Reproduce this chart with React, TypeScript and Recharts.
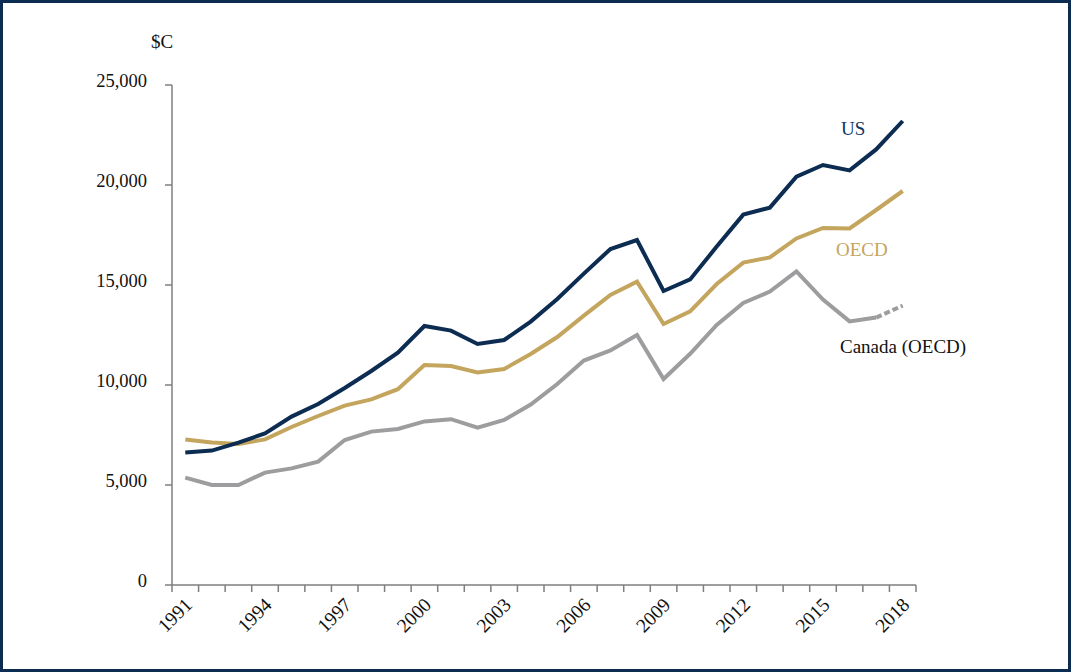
import { CartesianGrid, Line, LineChart, XAxis, YAxis } from 'recharts';

const years = [
  1991, 1992, 1993, 1994, 1995, 1996, 1997, 1998, 1999, 2000,
  2001, 2002, 2003, 2004, 2005, 2006, 2007, 2008, 2009, 2010,
  2011, 2012, 2013, 2014, 2015, 2016, 2017, 2018
];

const usValues = [
  6620, 6720, 7120, 7580, 8420, 9050, 9850, 10700, 11620, 12950,
  12720, 12050, 12250, 13170, 14300, 15570, 16800, 17250, 14700, 15280,
  16920, 18520, 18870, 20420, 21000, 20730, 21780, 23200
];

const oecdValues = [
  7280, 7130, 7050, 7280, 7900, 8450, 8970, 9280, 9790, 11000,
  10950, 10630, 10800, 11550, 12400, 13470, 14500, 15170, 13050, 13680,
  15050, 16120, 16380, 17330, 17850, 17830, 18750, 19700
];

const canadaValues = [
  5370, 5000, 5000, 5620, 5830, 6170, 7250, 7670, 7800, 8180,
  8290, 7870, 8250, 9020, 10050, 11220, 11730, 12500, 10300, 11560,
  13000, 14100, 14670, 15680, 14270, 13180, 13370, 13970
];

// last year is an estimate, drawn dashed
const lastSolidYear = 2017;

const yTicks = [0, 5000, 10000, 15000, 20000, 25000];
const labelEvery = 3;

const data = years.map((year, i) => ({
  year,
  us: usValues[i],
  oecd: oecdValues[i],
  canada: year <= lastSolidYear ? canadaValues[i] : null,
  canadaEst: year >= lastSolidYear ? canadaValues[i] : null
}));

const W = 1071;
const H = 672;
const MARGIN = { top: 85, right: 155, bottom: 0, left: 0 };
const Y_AXIS_W = 172;
const X_AXIS_H = 87;
const PLOT_W = W - MARGIN.left - MARGIN.right - Y_AXIS_W;
const BAND = PLOT_W / years.length;

const FONT = '"Liberation Serif", "Times New Roman", serif';
const AXIS = '#7f7f7f';
const NAVY = '#0c2c52';
const GOLD = '#c4a55e';
const GREY = '#9d9d9f';

const fmt = (v: number) => v.toLocaleString('en-US');

const XTick = (props: any) => {
  const { x, y, payload, index } = props;
  const left = x - BAND / 2;
  const showLabel = index % labelEvery === 0;
  const tx = x + 8;
  const ty = y + 21;
  return (
    <g>
      <line x1={left} y1={y} x2={left} y2={y + 7} stroke={AXIS} strokeWidth={1.5} />
      {index === years.length - 1 && (
        <line x1={x + BAND / 2} y1={y} x2={x + BAND / 2} y2={y + 7} stroke={AXIS} strokeWidth={1.5} />
      )}
      {showLabel && (
        <text
          x={tx}
          y={ty}
          textAnchor="end"
          transform={`rotate(-45, ${tx}, ${ty})`}
          fontFamily={FONT}
          fontSize={19.5}
          fill="#111"
        >
          {payload.value}
        </text>
      )}
    </g>
  );
};

const YTick = (props: any) => {
  const { x, y, payload } = props;
  return (
    <text x={x} y={y + 2} textAnchor="end" fontFamily={FONT} fontSize={18.5} fill="#111">
      {fmt(payload.value)}
    </text>
  );
};

export default function App() {
  return (
    <div style={{ position: 'absolute', left: 0, top: 0, width: W, height: H, background: '#fff' }}>
      <LineChart width={W} height={H} data={data} margin={MARGIN}>
        <CartesianGrid stroke="none" />
        <XAxis
          dataKey="year"
          scale="band"
          interval={0}
          height={X_AXIS_H}
          tickSize={0}
          tickMargin={0}
          tickLine={false}
          axisLine={{ stroke: AXIS, strokeWidth: 1.5 }}
          tick={<XTick />}
        />
        <YAxis
          width={Y_AXIS_W}
          domain={[0, 25000]}
          ticks={yTicks}
          interval={0}
          tickSize={7}
          tickMargin={18}
          tickLine={{ stroke: AXIS, strokeWidth: 1.5 }}
          axisLine={{ stroke: AXIS, strokeWidth: 1.5 }}
          tick={<YTick />}
        />
        <Line dataKey="canada" stroke={GREY} strokeWidth={4} dot={false} isAnimationActive={false} />
        <Line
          dataKey="canadaEst"
          stroke={GREY}
          strokeWidth={4}
          strokeDasharray="6 3"
          dot={false}
          isAnimationActive={false}
        />
        <Line dataKey="oecd" stroke={GOLD} strokeWidth={4} dot={false} isAnimationActive={false} />
        <Line dataKey="us" stroke={NAVY} strokeWidth={4} dot={false} isAnimationActive={false} />
      </LineChart>
      <svg
        width={W}
        height={H}
        style={{ position: 'absolute', left: 0, top: 0, pointerEvents: 'none' }}
        fontFamily={FONT}
      >
        <text x={151} y={48} fontSize={19} fill="#111">$C</text>
        <text x={841} y={135} fontSize={19} fill="#0e3466">US</text>
        <text x={836} y={256} fontSize={19} fill={GOLD}>OECD</text>
        <text x={840} y={353} fontSize={19} fill="#111">Canada (OECD)</text>
      </svg>
      <div
        style={{
          position: 'absolute',
          inset: 0,
          border: `3px solid ${NAVY}`,
          pointerEvents: 'none'
        }}
      />
    </div>
  );
}
